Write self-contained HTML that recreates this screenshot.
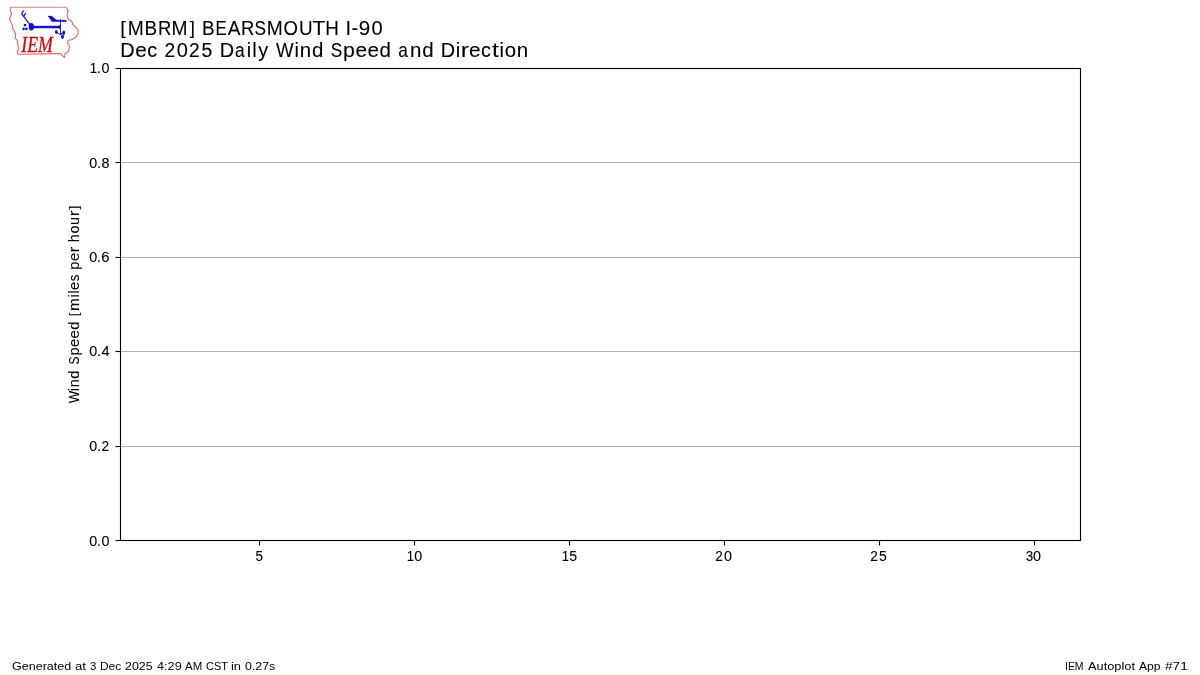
<!DOCTYPE html>
<html lang="en">
<head>
<meta charset="utf-8">
<title>[MBRM] BEARSMOUTH I-90 - Dec 2025 Daily Wind Speed and Direction</title>
<style>
html,body{margin:0;padding:0;background:#fff;}
body{width:1200px;height:675px;position:relative;overflow:hidden;
  font-family:"Liberation Sans",sans-serif;color:#000;}
#plot{position:absolute;left:0;top:0;width:1200px;height:675px;}
.t{display:block;position:absolute;white-space:nowrap;line-height:1;transform-origin:0 0;margin:0;padding:0;}
svg text{font-family:"Liberation Sans",sans-serif;fill:#000;stroke:#000;stroke-width:0;stroke-linejoin:round;}
svg text.title{stroke-width:0.1px;}svg text.tick{stroke-width:0.1px;}svg text.ylab{stroke-width:0.1px;}
.title{font-size:20.1px;}
.tick{font-size:14.2px;}
.foot{font-size:11.4px;}
.ylab{font-size:14.2px;}
</style>
</head>
<body>
<svg id="plot" width="1200" height="675" viewBox="0 0 1200 675">
  <!-- horizontal grid lines -->
  <g stroke="#b0b0b0" stroke-width="1.11" fill="none">
    <line x1="120.5" y1="162.5" x2="1080.5" y2="162.5"/>
    <line x1="120.5" y1="257.5" x2="1080.5" y2="257.5"/>
    <line x1="120.5" y1="351.5" x2="1080.5" y2="351.5"/>
    <line x1="120.5" y1="446.5" x2="1080.5" y2="446.5"/>
  </g>
  <!-- y ticks -->
  <g stroke="#000" stroke-width="1.11" fill="none">
    <line x1="115.5" y1="68.5" x2="120.5" y2="68.5"/>
    <line x1="115.5" y1="162.5" x2="120.5" y2="162.5"/>
    <line x1="115.5" y1="257.5" x2="120.5" y2="257.5"/>
    <line x1="115.5" y1="351.5" x2="120.5" y2="351.5"/>
    <line x1="115.5" y1="446.5" x2="120.5" y2="446.5"/>
    <line x1="115.5" y1="540.5" x2="120.5" y2="540.5"/>
  </g>
  <!-- x ticks -->
  <g stroke="#000" stroke-width="1.11" fill="none">
    <line x1="259.5" y1="540.5" x2="259.5" y2="545.5"/>
    <line x1="414.5" y1="540.5" x2="414.5" y2="545.5"/>
    <line x1="569.5" y1="540.5" x2="569.5" y2="545.5"/>
    <line x1="724.5" y1="540.5" x2="724.5" y2="545.5"/>
    <line x1="879.5" y1="540.5" x2="879.5" y2="545.5"/>
    <line x1="1034.5" y1="540.5" x2="1034.5" y2="545.5"/>
  </g>
  <!-- axes frame -->
  <rect x="120.5" y="68.5" width="960" height="472" fill="none" stroke="#000" stroke-width="1.11"/>
</svg>

<svg id="logo" width="90" height="64" viewBox="0 0 90 64" style="position:absolute;left:0;top:0;overflow:visible;">
  <!-- Iowa outline -->
  <path fill="none" stroke="#e99a9a" stroke-width="1.1" d="M9.9 7.35 L66.9 7.35"/>
  <path fill="none" stroke="#e06464" stroke-width="1.1" stroke-linejoin="round" d="M66.7 7.5 L67.1 9.6 L68.4 10.9 L67.3 12.7 L67.1 15.3 L68 18.4 L68.9 19.8 L71.1 20.7 L72.4 22.4 L72.7 24.1 L74.8 26.1 L76.6 28.2 L78.1 30.3 L78.1 33 L76.6 36.2 L74.2 38.6 L71.3 39.8 L68.3 40.4 L67.4 42.7 L69.5 45.7 L69.2 48.7 L67.7 52.2 L65 53.7 L64.4 57.6 L61.2 54.3 L60.2 53.6 L18.1 54.3 L17.3 51.7 L18.6 49.2 L17.8 44.6 L17.1 40.1 L15.3 38.1 L15.6 34.5 L14.5 31.5 L12.9 28.7 L12.2 25.1 L10.7 21.6 L9.3 19.3 L10.7 16.2 L11.6 13.1 L10.4 11.3 L10.4 9.8 L10.2 7.5"/>
  <!-- wind barb + vane -->
  <g fill="#1212cc" stroke="none">
    <ellipse cx="31.3" cy="26.7" rx="2.65" ry="3.7"/>
    <rect x="31" y="25.8" width="29.4" height="2.45"/>
    <polygon points="57.3,26.9 60.4,24.5 60.4,29.5"/>
    <rect x="60.1" y="19.2" width="0.9" height="14.8"/>
    <polygon points="47.8,16.1 51.5,15.8 56.4,19.8 65.6,20 67,21.4 66.8,21.8 52,21.8"/>
    <circle cx="25" cy="25.1" r="1.3"/>
    <circle cx="23.6" cy="28.9" r="1.3"/>
    <circle cx="26.4" cy="28.9" r="1.3"/>
    <ellipse cx="56.3" cy="31.9" rx="1.35" ry="2"/>
    <ellipse cx="63.8" cy="32.7" rx="1.35" ry="2.2"/>
    <ellipse cx="62.5" cy="36.7" rx="1.4" ry="2.2"/>
  </g>
  <g fill="none" stroke="#1212cc" stroke-width="1.2" stroke-linecap="butt">
    <path d="M31.3 26.7 L21.6 13.6 L23.6 10.4"/>
    <path d="M23.8 16.4 L25.8 13.1"/>
    <path stroke-width="1" d="M56.1 31.8 L62.5 35.8"/>
    <path stroke-width="1" d="M60.5 33.8 L63.9 32.7"/>
  </g>
</svg>
<div id="txt" style="position:absolute;left:0;top:0;width:1200px;height:675px;will-change:transform;">
<svg id="labels" width="1200" height="675" viewBox="0 0 1200 675" style="position:absolute;left:0;top:0;">
<text class="title" transform="translate(120.15,33.82) scale(1.002,0.921)">[</text>
<text class="title" transform="translate(127.79,35.02) scale(0.957,1.002)">M</text>
<text class="title" transform="translate(144.56,35.00) scale(0.939,1.000)">B</text>
<text class="title" transform="translate(157.98,35.02) scale(0.918,1.001)">R</text>
<text class="title" transform="translate(171.41,35.02) scale(0.957,1.002)">M</text>
<text class="title" transform="translate(189.78,33.82) scale(0.927,0.921)">]</text>
<text class="title" transform="translate(201.94,35.00) scale(0.939,1.000)">B</text>
<text class="title" transform="translate(215.48,35.00) scale(0.839,1.000)">E</text>
<text class="title" transform="translate(227.63,35.02) scale(0.947,1.001)">A</text>
<text class="title" transform="translate(240.98,35.02) scale(0.918,1.001)">R</text>
<text class="title" transform="translate(254.61,34.98) scale(0.857,0.997)">S</text>
<text class="title" transform="translate(266.79,35.02) scale(0.957,1.002)">M</text>
<text class="title" transform="translate(283.59,34.96) scale(0.923,0.996)">O</text>
<text class="title" transform="translate(298.89,34.98) scale(0.940,0.999)">U</text>
<text class="title" transform="translate(312.48,35.04) scale(1.037,1.003)">T</text>
<text class="title" transform="translate(325.32,35.02) scale(0.936,1.002)">H</text>
<text class="title" transform="translate(345.60,35.06) scale(1.000,1.008)">I</text>
<text class="title" transform="translate(351.56,35.08) scale(0.978,1.000)">-</text>
<text class="title" transform="translate(358.87,34.98) scale(1.027,0.997)">9</text>
<text class="title" transform="translate(371.38,34.96) scale(0.999,0.996)">0</text>
<text class="title" transform="translate(120.23,57.00) scale(0.991,1.000)">D</text>
<text class="title" transform="translate(135.16,57.00) scale(1.037,0.997)">e</text>
<text class="title" transform="translate(147.20,56.98) scale(0.987,0.996)">c</text>
<text class="title" transform="translate(164.38,57.00) scale(0.959,0.999)">2</text>
<text class="title" transform="translate(176.75,56.98) scale(0.999,0.999)">0</text>
<text class="title" transform="translate(189.01,57.00) scale(0.959,0.997)">2</text>
<text class="title" transform="translate(201.49,56.98) scale(0.973,0.999)">5</text>
<text class="title" transform="translate(219.85,57.00) scale(0.991,1.000)">D</text>
<text class="title" transform="translate(234.94,57.00) scale(0.861,0.997)">a</text>
<text class="title" transform="translate(246.81,57.04) scale(1.000,1.005)">i</text>
<text class="title" transform="translate(252.29,57.04) scale(1.000,1.005)">l</text>
<text class="title" transform="translate(258.15,57.00) scale(0.986,1.003)">y</text>
<text class="title" transform="translate(275.94,57.00) scale(0.928,1.000)">W</text>
<text class="title" transform="translate(294.43,57.04) scale(1.000,1.005)">i</text>
<text class="title" transform="translate(299.81,57.02) scale(1.020,1.003)">n</text>
<text class="title" transform="translate(312.07,57.00) scale(1.021,1.011)">d</text>
<text class="title" transform="translate(330.86,56.98) scale(0.857,0.998)">S</text>
<text class="title" transform="translate(343.04,57.03) scale(1.060,1.003)">p</text>
<text class="title" transform="translate(355.41,56.99) scale(1.037,0.998)">e</text>
<text class="title" transform="translate(367.41,56.99) scale(1.037,0.998)">e</text>
<text class="title" transform="translate(379.44,57.00) scale(1.021,1.011)">d</text>
<text class="title" transform="translate(398.19,56.97) scale(0.861,0.995)">a</text>
<text class="title" transform="translate(409.94,57.02) scale(1.020,1.003)">n</text>
<text class="title" transform="translate(422.19,57.00) scale(1.021,1.011)">d</text>
<text class="title" transform="translate(440.73,57.00) scale(0.991,1.000)">D</text>
<text class="title" transform="translate(455.81,57.04) scale(1.000,1.005)">i</text>
<text class="title" transform="translate(460.87,57.02) scale(1.242,1.008)">r</text>
<text class="title" transform="translate(468.91,56.99) scale(1.037,0.995)">e</text>
<text class="title" transform="translate(480.95,56.97) scale(0.986,0.994)">c</text>
<text class="title" transform="translate(491.91,57.01) scale(1.211,1.039)">t</text>
<text class="title" transform="translate(499.43,57.04) scale(1.000,1.005)">i</text>
<text class="title" transform="translate(504.82,56.98) scale(1.012,0.997)">o</text>
<text class="title" transform="translate(516.81,57.02) scale(1.020,1.003)">n</text>
<text class="tick" transform="translate(89.29,545.98) scale(1.011,0.998)">0</text>
<text class="tick" transform="translate(96.94,545.91) scale(1.000,1.000)">.</text>
<text class="tick" transform="translate(101.41,545.98) scale(1.012,0.998)">0</text>
<text class="tick" transform="translate(89.29,450.98) scale(1.011,0.998)">0</text>
<text class="tick" transform="translate(96.94,450.91) scale(1.000,1.000)">.</text>
<text class="tick" transform="translate(101.43,451.00) scale(0.970,0.998)">2</text>
<text class="tick" transform="translate(89.29,355.98) scale(1.011,0.998)">0</text>
<text class="tick" transform="translate(96.94,355.91) scale(1.000,1.000)">.</text>
<text class="tick" transform="translate(101.42,355.86) scale(1.024,0.991)">4</text>
<text class="tick" transform="translate(89.29,261.98) scale(1.011,0.998)">0</text>
<text class="tick" transform="translate(96.94,261.91) scale(1.000,1.000)">.</text>
<text class="tick" transform="translate(101.37,262.00) scale(1.040,1.002)">6</text>
<text class="tick" transform="translate(89.29,167.98) scale(1.011,0.998)">0</text>
<text class="tick" transform="translate(96.94,167.91) scale(1.000,1.000)">.</text>
<text class="tick" transform="translate(101.52,168.00) scale(1.016,1.002)">8</text>
<text class="tick" transform="translate(89.87,73.00) scale(0.923,1.017)">1</text>
<text class="tick" transform="translate(97.06,72.91) scale(1.000,1.000)">.</text>
<text class="tick" transform="translate(101.54,72.98) scale(1.011,0.998)">0</text>
<text class="tick" transform="translate(255.56,561.02) scale(0.947,1.002)">5</text>
<text class="tick" transform="translate(406.87,561.00) scale(0.923,1.017)">1</text>
<text class="tick" transform="translate(414.17,560.97) scale(1.011,0.997)">0</text>
<text class="tick" transform="translate(561.87,561.00) scale(0.923,1.017)">1</text>
<text class="tick" transform="translate(569.14,561.02) scale(0.987,1.002)">5</text>
<text class="tick" transform="translate(715.30,561.00) scale(0.970,1.000)">2</text>
<text class="tick" transform="translate(724.04,560.96) scale(1.011,0.994)">0</text>
<text class="tick" transform="translate(870.30,561.00) scale(0.970,1.000)">2</text>
<text class="tick" transform="translate(879.05,561.02) scale(0.981,1.002)">5</text>
<text class="tick" transform="translate(1025.70,561.02) scale(0.944,1.002)">3</text>
<text class="tick" transform="translate(1033.04,560.96) scale(1.011,0.994)">0</text>
<g transform="translate(60,500) rotate(-90)">
<text class="ylab" transform="translate(96.63,19.04) scale(0.929,1.014)">W</text>
<text class="ylab" transform="translate(108.81,19.18) scale(1.000,1.032)">i</text>
<text class="ylab" transform="translate(112.73,19.15) scale(1.016,1.034)">n</text>
<text class="ylab" transform="translate(121.25,18.95) scale(1.041,0.982)">d</text>
<text class="ylab" transform="translate(135.58,18.98) scale(0.851,0.995)">S</text>
<text class="ylab" transform="translate(144.49,18.87) scale(1.037,0.996)">p</text>
<text class="ylab" transform="translate(153.09,19.02) scale(1.049,1.003)">e</text>
<text class="ylab" transform="translate(161.59,19.01) scale(1.049,1.000)">e</text>
<text class="ylab" transform="translate(170.13,18.96) scale(1.041,0.989)">d</text>
<text class="ylab" transform="translate(183.66,18.33) scale(0.920,0.939)">[</text>
<text class="ylab" transform="translate(189.06,19.19) scale(1.080,1.033)">m</text>
<text class="ylab" transform="translate(202.56,18.99) scale(1.000,0.998)">i</text>
<text class="ylab" transform="translate(206.43,18.86) scale(1.000,0.974)">l</text>
<text class="ylab" transform="translate(210.09,19.02) scale(1.049,1.003)">e</text>
<text class="ylab" transform="translate(218.74,18.97) scale(0.941,0.994)">s</text>
<text class="ylab" transform="translate(230.37,18.92) scale(1.035,1.002)">p</text>
<text class="ylab" transform="translate(238.97,19.02) scale(1.049,1.002)">e</text>
<text class="ylab" transform="translate(247.55,19.13) scale(1.230,1.031)">r</text>
<text class="ylab" transform="translate(257.85,19.15) scale(1.018,1.030)">h</text>
<text class="ylab" transform="translate(266.43,19.02) scale(1.010,1.004)">o</text>
<text class="ylab" transform="translate(275.01,19.18) scale(1.014,1.043)">u</text>
<text class="ylab" transform="translate(283.67,19.19) scale(1.230,1.040)">r</text>
<text class="ylab" transform="translate(290.68,18.33) scale(0.917,0.939)">]</text>
</g>
</svg>
<span class="t foot" style="left:11.97px;top:661px;transform:scaleX(1.1006);">Generated</span>
<span class="t foot" style="left:74.94px;top:661px;transform:scaleX(1.1636);">at</span>
<span class="t foot" style="left:89.94px;top:661px;transform:scaleX(1.0008);">3</span>
<span class="t foot" style="left:100.27px;top:661px;transform:scaleX(1.0459);">Dec</span>
<span class="t foot" style="left:125.36px;top:661px;transform:scaleX(1.0877);">2025</span>
<span class="t foot" style="left:157.13px;top:661px;transform:scaleX(1.1136);">4:29</span>
<span class="t foot" style="left:185.42px;top:661px;transform:scaleX(1.0060);">AM</span>
<span class="t foot" style="left:206.18px;top:661px;transform:scaleX(0.9615);">CST</span>
<span class="t foot" style="left:231.39px;top:661px;transform:scaleX(1.1263);">in</span>
<span class="t foot" style="left:245.26px;top:661px;transform:scaleX(1.0854);">0.27s</span>
<span class="t foot" style="left:1065.15px;top:661px;transform:scaleX(0.9157);">IEM</span>
<span class="t foot" style="left:1088.39px;top:661px;transform:scaleX(1.1247);">Autoplot</span>
<span class="t foot" style="left:1139.03px;top:661px;transform:scaleX(1.0590);">App</span>
<span class="t foot" style="left:1164.55px;top:661px;transform:scaleX(1.1950);">#71</span>
<svg id="logotext" width="90" height="64" viewBox="0 0 90 64" style="position:absolute;left:0;top:0;overflow:visible;"><text transform="translate(21.24,51.61) scale(0.7690,0.9708)" style="font-family:'Liberation Serif',serif;font-style:italic;font-size:23.2px;fill:#cc0a0a;stroke:#cc0a0a;stroke-width:0.3px;">IEM</text></svg>
</div>
</body>
</html>
